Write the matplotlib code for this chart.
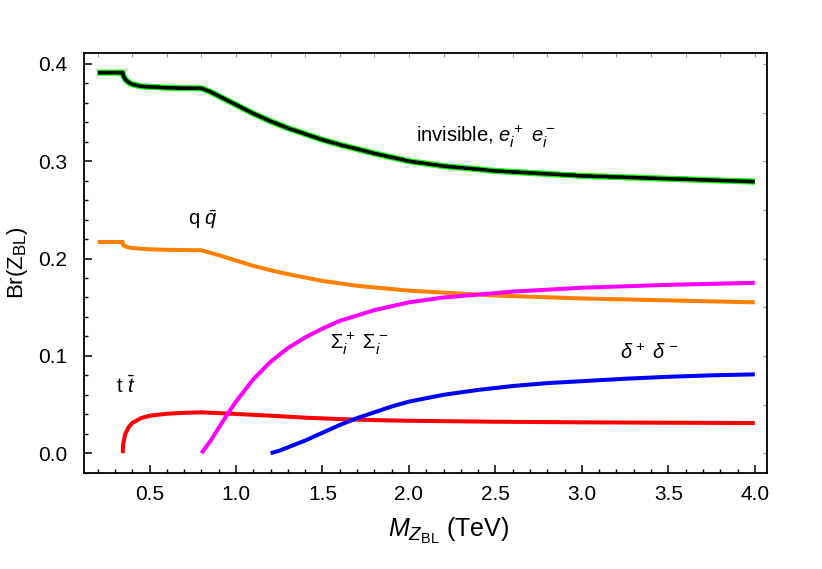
import matplotlib
matplotlib.use("Agg")
import matplotlib.pyplot as plt
from matplotlib.ticker import MultipleLocator, FormatStrFormatter
try:
    import matplotlib._mathtext as _mt
    _mt.SHRINK_FACTOR = 0.76
except Exception:
    pass

plt.rcParams['font.family'] = ['Liberation Sans', 'DejaVu Sans']
plt.rcParams['mathtext.fontset'] = 'custom'
plt.rcParams['mathtext.rm'] = 'Liberation Sans'
plt.rcParams['mathtext.it'] = 'Liberation Sans:italic'
plt.rcParams['mathtext.bf'] = 'Liberation Sans:bold'

# ---- data ----
inv_x = [0.20, 0.345, 0.347, 0.35, 0.36, 0.38, 0.40, 0.45, 0.50, 0.60, 0.70, 0.80,
         0.85, 0.90, 1.00, 1.10, 1.20, 1.30, 1.40, 1.50, 1.60, 1.80, 2.00, 2.20,
         2.50, 2.80, 3.00, 3.50, 4.00]
inv_y = [0.391, 0.391, 0.389, 0.387, 0.384, 0.381, 0.379, 0.377, 0.3765, 0.3755, 0.375, 0.375,
         0.3715, 0.367, 0.358, 0.349, 0.341, 0.334, 0.328, 0.322, 0.317, 0.308, 0.300, 0.295,
         0.290, 0.287, 0.285, 0.282, 0.279]

qq_x = [0.20, 0.345, 0.347, 0.35, 0.37, 0.40, 0.50, 0.60, 0.80, 0.90, 1.00, 1.10,
        1.20, 1.30, 1.50, 1.70, 2.00, 2.50, 3.00, 3.50, 4.00]
qq_y = [0.217, 0.217, 0.2145, 0.2135, 0.2118, 0.2108, 0.2095, 0.209, 0.2085, 0.2035, 0.198, 0.1925,
        0.188, 0.184, 0.177, 0.172, 0.167, 0.162, 0.159, 0.157, 0.155]

tt_x = [0.345, 0.347, 0.35, 0.36, 0.38, 0.40, 0.45, 0.50, 0.60, 0.70, 0.80, 0.90,
        1.00, 1.20, 1.40, 1.60, 1.80, 2.00, 2.50, 3.00, 3.50, 4.00]
tt_y = [0.0, 0.008, 0.012, 0.020, 0.027, 0.031, 0.036, 0.0385, 0.0405, 0.0415, 0.042, 0.0412,
        0.0403, 0.0385, 0.0365, 0.035, 0.034, 0.0333, 0.0323, 0.0317, 0.0313, 0.031]

sig_x = [0.80, 0.85, 0.90, 0.95, 1.00, 1.10, 1.20, 1.30, 1.40, 1.50, 1.60, 1.80,
         2.00, 2.20, 2.40, 2.60, 2.80, 3.00, 3.50, 4.00]
sig_y = [0.0, 0.012, 0.026, 0.040, 0.053, 0.076, 0.094, 0.108, 0.119, 0.128, 0.136, 0.147,
         0.155, 0.160, 0.163, 0.166, 0.168, 0.170, 0.173, 0.175]

del_x = [1.20, 1.25, 1.30, 1.40, 1.50, 1.60, 1.70, 1.80, 1.90, 2.00, 2.20, 2.40,
         2.60, 2.80, 3.00, 3.25, 3.50, 3.75, 4.00]
del_y = [0.0, 0.0025, 0.006, 0.013, 0.021, 0.029, 0.036, 0.042, 0.048, 0.053, 0.060, 0.065,
         0.069, 0.072, 0.074, 0.0765, 0.0785, 0.080, 0.081]

labels = {
    'inv': r"invisible, $e_i^+\ e_i^-$",
    'qq': r"q $\bar{q}$",
    'tt': r"t $\bar{t}$",
    'sig': r"$\Sigma_i^+\ \Sigma_i^-$",
    'del': r"$\delta^+\ \delta^-$",
}

fig = plt.figure(figsize=(8.22, 5.69), dpi=100)
ax = fig.add_axes([0.102, 0.169, 0.831, 0.738])

lw = 2.9
ax.plot(inv_x, inv_y, color=(0, 1, 0), lw=4.4, solid_capstyle='butt', zorder=3)
ax.plot(inv_x, inv_y, color='black', lw=2.6, solid_capstyle='butt', zorder=4)
ax.plot(qq_x, qq_y, color=(1, 0.5, 0), lw=lw, solid_capstyle='butt', zorder=3)
ax.plot(tt_x, tt_y, color=(1, 0, 0), lw=lw, solid_capstyle='butt', zorder=3)
ax.plot(sig_x, sig_y, color=(1, 0, 1), lw=lw, solid_capstyle='butt', zorder=3)
ax.plot(del_x, del_y, color=(0, 0, 1), lw=lw, solid_capstyle='butt', zorder=3)

fs = 14.5
ax.text(2.04, 0.325, labels['inv'], fontsize=fs, va='center', ha='left')
ax.text(0.81, 0.240, labels['qq'], fontsize=fs, va='center', ha='center')
ax.text(0.36, 0.069, labels['tt'], fontsize=fs, va='center', ha='center')
ax.text(1.71, 0.113, labels['sig'], fontsize=fs, va='center', ha='center')
ax.text(3.39, 0.103, labels['del'], fontsize=fs, va='center', ha='center')

ax.set_xlim(0.12, 4.07)
ax.set_ylim(-0.0202, 0.4113)

ax.xaxis.set_major_locator(MultipleLocator(0.5))
ax.xaxis.set_minor_locator(MultipleLocator(0.1))
ax.yaxis.set_major_locator(MultipleLocator(0.1))
ax.yaxis.set_minor_locator(MultipleLocator(0.02))
ax.xaxis.set_major_formatter(FormatStrFormatter('%.1f'))
ax.yaxis.set_major_formatter(FormatStrFormatter('%.1f'))
ax.tick_params(which='major', direction='in', length=5.5, width=1.1, labelsize=15)
ax.tick_params(axis='x', which='major', pad=9)
ax.tick_params(axis='y', which='major', pad=12)
ax.tick_params(which='minor', direction='in', length=3.0, width=1.0)

for s in ax.spines.values():
    s.set_linewidth(1.3)

# faint top/right frame ticks
secx = ax.secondary_xaxis('top')
secx.xaxis.set_major_locator(MultipleLocator(0.2))
secx.tick_params(direction='in', length=3, width=0.8, color='0.6', labeltop=False)
secx.spines['top'].set_visible(False)
secy = ax.secondary_yaxis('right')
secy.yaxis.set_major_locator(MultipleLocator(0.05))
secy.tick_params(direction='in', length=3, width=0.8, color='0.6', labelright=False)
secy.spines['right'].set_visible(False)

fig.text(0.5456, 0.068, r"$M_{Z_{\rm BL}}$ (TeV)", fontsize=18, ha='center', va='center')
fig.text(0.021, 0.538, r"Br(Z$_{\rm BL}$)", fontsize=16, ha='center', va='center',
         rotation=90)

fig.savefig("out.png", dpi=100)
